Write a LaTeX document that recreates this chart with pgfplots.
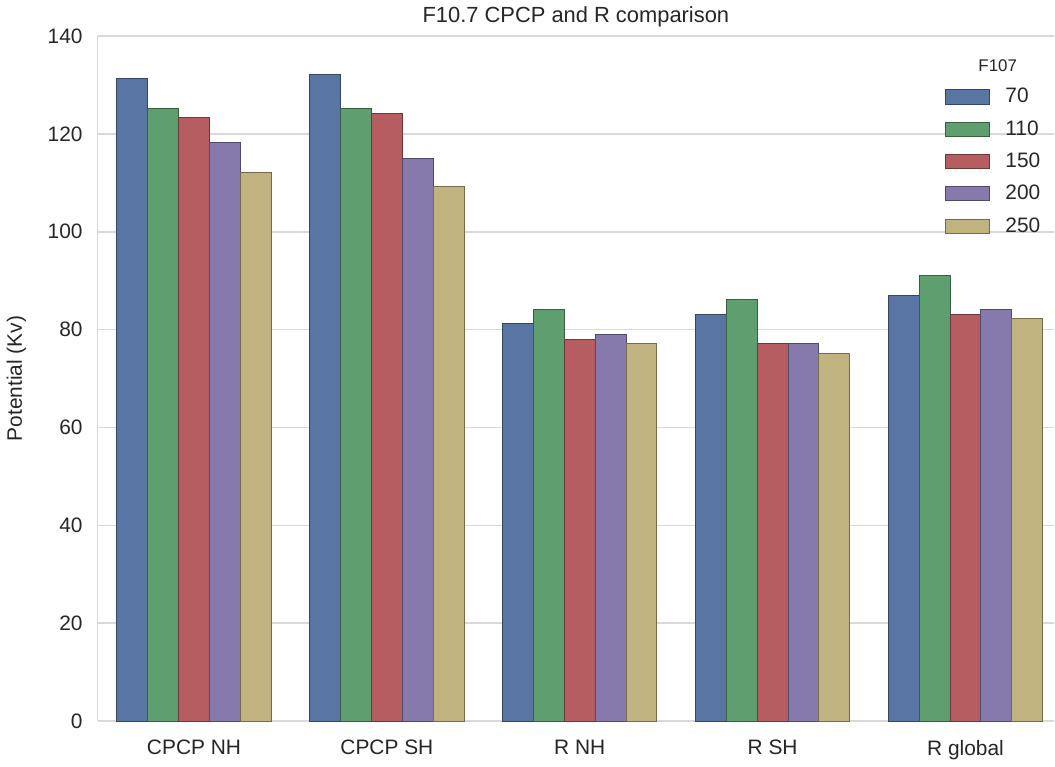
\documentclass[border=0pt]{standalone}
\usepackage{pgfplots}
\pgfplotsset{compat=1.18}
\usepackage{fontspec}
\setmainfont{Liberation Sans}

\definecolor{c70}{HTML}{5975A4}
\definecolor{c110}{HTML}{5F9E6E}
\definecolor{c150}{HTML}{B55D60}
\definecolor{c200}{HTML}{857AAB}
\definecolor{c250}{HTML}{C1B37F}

\begin{document}
\begin{tikzpicture}
\begin{axis}[
    scale only axis,
    width=479bp, height=343bp,
    ybar=0pt,
    bar width=0.16,
    xmin=-0.5, xmax=4.46,
    ymin=0, ymax=140,
    ytick={0,20,...,140},
    xtick={0,1,2,3,4},
    xticklabels={CPCP NH, CPCP SH, R NH, R SH, R global},
    major tick length=0pt,
    ymajorgrids,
    grid style={gray!30, line width=0.8pt},
    axis x line*=bottom,
    axis y line*=left,
    axis line style={-, draw=gray!30, line width=0.8pt},
    tick label style={font=\fontsize{10.5}{12}\selectfont, text=black!85},
    /pgf/number format/assume math mode=true,
    xticklabel style={yshift=-6pt},
    yticklabel style={xshift=-4pt},
    ylabel={Potential (Kv)},
    ylabel style={font=\fontsize{10.5}{12}\selectfont, text=black!85, yshift=4pt},
    title={F10.7 CPCP and R comparison},
    title style={font=\fontsize{11}{13}\selectfont, text=black!85, yshift=-5pt},
    legend style={draw=none, fill=none, at={(0.99,0.93)}, anchor=north east,
        font=\fontsize{10.5}{12}\selectfont, text=black!85,
        row sep=3.4pt, inner sep=0pt},
    legend cell align=left,
    legend image code/.code={\draw[#1, line width=0.4pt] (0cm,-0.12cm) rectangle (0.78cm,0.13cm);},
    clip=false,
]
\addplot[fill=c70, draw=c70!60!black, line width=0.5pt, bar shift=-0.32] coordinates {
    (0,131.3) (1,132.2) (2,81.3) (3,83.1) (4,86.9)};
\addlegendentry{\hspace{6pt}70}
\addplot[fill=c110, draw=c110!60!black, line width=0.5pt, bar shift=-0.16] coordinates {
    (0,125.2) (1,125.2) (2,84.1) (3,86.1) (4,91.0)};
\addlegendentry{\hspace{6pt}110}
\addplot[fill=c150, draw=c150!60!black, line width=0.5pt, bar shift=0] coordinates {
    (0,123.3) (1,124.2) (2,78.0) (3,77.1) (4,83.1)};
\addlegendentry{\hspace{6pt}150}
\addplot[fill=c200, draw=c200!60!black, line width=0.5pt, bar shift=0.16] coordinates {
    (0,118.2) (1,115.0) (2,79.0) (3,77.1) (4,84.1)};
\addlegendentry{\hspace{6pt}200}
\addplot[fill=c250, draw=c250!60!black, line width=0.5pt, bar shift=0.32] coordinates {
    (0,112.1) (1,109.2) (2,77.1) (3,75.2) (4,82.2)};
\addlegendentry{\hspace{6pt}250}
\node[font=\fontsize{8.5}{10}\selectfont, text=black!85] at (rel axis cs:0.941,0.957) {F107};
\end{axis}
\end{tikzpicture}
\end{document}
